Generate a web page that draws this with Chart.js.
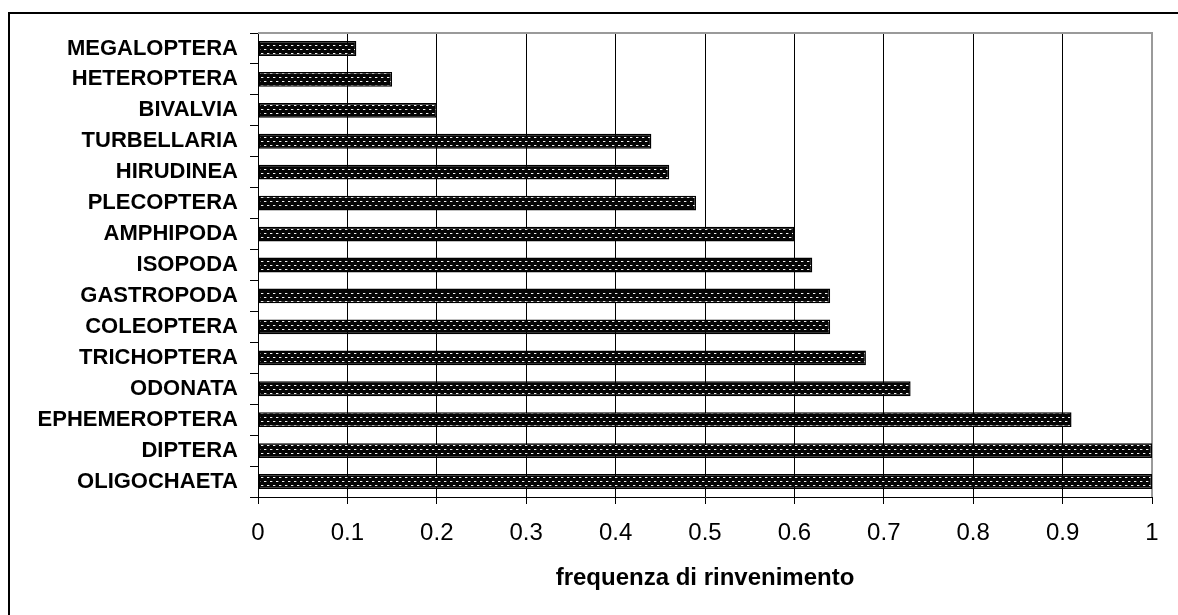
<!DOCTYPE html>
<html>
<head>
<meta charset="utf-8">
<script src="https://cdn.jsdelivr.net/npm/chart.js@4.4.0/dist/chart.umd.min.js"></script>
<style>
  html, body { margin: 0; padding: 0; background: #fff; }
  #wrap { width: 1178px; height: 615px; position: relative; }
</style>
</head>
<body>
<div id="wrap"><canvas id="c" width="1178" height="615"></canvas></div>
<script>
// Taxa, listed top to bottom
const taxa = [
  'MEGALOPTERA', 'HETEROPTERA', 'BIVALVIA', 'TURBELLARIA', 'HIRUDINEA',
  'PLECOPTERA', 'AMPHIPODA', 'ISOPODA', 'GASTROPODA', 'COLEOPTERA',
  'TRICHOPTERA', 'ODONATA', 'EPHEMEROPTERA', 'DIPTERA', 'OLIGOCHAETA'
];
// Frequency of occurrence for each taxon
const frequenza = [
  0.11, 0.15, 0.20, 0.44, 0.46,
  0.49, 0.60, 0.62, 0.64, 0.64,
  0.68, 0.73, 0.91, 1.00, 1.00
];
// Horizontal axis tick values
const xTicks = [0, 0.1, 0.2, 0.3, 0.4, 0.5, 0.6, 0.7, 0.8, 0.9, 1];
const xTitle = 'frequenza di rinvenimento';

// Dark woven fill with light dashes in offset rows
function makeWeave() {
  const c = document.createElement('canvas');
  c.width = 6; c.height = 8;
  const g = c.getContext('2d');
  g.fillStyle = '#050505';
  g.fillRect(0, 0, 6, 8);
  g.fillStyle = '#f4f4f4';
  g.fillRect(0, 1, 2, 1);
  g.fillRect(3, 5, 2, 1);
  g.fillStyle = '#5a5a5a';
  g.fillRect(2, 1, 1, 1);
  g.fillRect(5, 5, 1, 1);
  return g.createPattern(c, 'repeat');
}

// Page frame and grey plot-area outline
const framePlugin = {
  id: 'frame',
  beforeDraw(chart) {
    const ctx = chart.ctx;
    ctx.save();
    ctx.fillStyle = '#fff';
    ctx.fillRect(0, 0, chart.width, chart.height);
    ctx.strokeStyle = '#000';
    ctx.lineWidth = 2;
    ctx.beginPath();
    ctx.moveTo(9, chart.height);
    ctx.lineTo(9, 13);
    ctx.lineTo(chart.width, 13);
    ctx.stroke();
    ctx.restore();
  },
  beforeDatasetsDraw(chart) {
    const a = chart.chartArea;
    const ctx = chart.ctx;
    ctx.save();
    ctx.strokeStyle = '#9a9a9a';
    ctx.lineWidth = 2;
    ctx.beginPath();
    ctx.moveTo(a.left, a.top);
    ctx.lineTo(a.right, a.top);
    ctx.lineTo(a.right, a.bottom);
    ctx.stroke();
    ctx.restore();
  }
};

new Chart(document.getElementById('c'), {
  type: 'bar',
  data: {
    labels: taxa,
    datasets: [{
      data: frequenza,
      backgroundColor: makeWeave(),
      borderColor: '#000',
      borderWidth: 1.5,
      borderSkipped: false,
      categoryPercentage: 1,
      barPercentage: 0.48
    }]
  },
  options: {
    indexAxis: 'y',
    responsive: false,
    animation: false,
    devicePixelRatio: 1,
    layout: { padding: { left: 0, top: 33, right: 26, bottom: 0 } },
    plugins: {
      legend: { display: false },
      tooltip: { enabled: false }
    },
    scales: {
      x: {
        min: 0,
        max: 1,
        afterBuildTicks(scale) {
          scale.ticks = xTicks.map(v => ({ value: v }));
        },
        afterFit(scale) { scale.height = 118; },
        grid: {
          color: ctx => (ctx.tick && ctx.tick.value === 1) ? '#9a9a9a' : '#000',
          lineWidth: 1,
          tickLength: 7,
          tickColor: '#000'
        },
        border: { color: '#000', width: 1 },
        ticks: {
          padding: 15,
          color: '#000',
          maxRotation: 0,
          font: { family: '"Liberation Sans", Arial, sans-serif', size: 24 },
          callback: v => String(Number(v.toFixed(1)))
        },
        title: {
          display: true,
          text: xTitle,
          color: '#000',
          padding: { top: 0, bottom: 22 },
          font: { family: '"Liberation Sans", Arial, sans-serif', size: 24, weight: 'bold' }
        }
      },
      y: {
        afterFit(scale) { scale.width = 258; },
        grid: {
          offset: true,
          drawOnChartArea: false,
          tickLength: 8,
          tickColor: '#000'
        },
        border: { color: '#000', width: 1 },
        ticks: {
          padding: 12,
          color: '#000',
          autoSkip: false,
          font: { family: '"Liberation Sans", Arial, sans-serif', size: 22, weight: 'bold' }
        }
      }
    }
  },
  plugins: [framePlugin]
});
</script>
</body>
</html>
